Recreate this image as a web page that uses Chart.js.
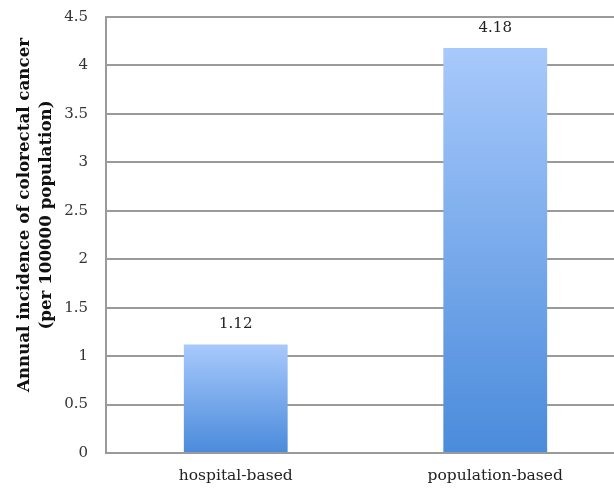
<!DOCTYPE html>
<html>
<head>
<meta charset="utf-8">
<script src="https://cdn.jsdelivr.net/npm/chart.js@4/dist/chart.umd.min.js"></script>
<style>
html,body{margin:0;padding:0;background:#fff;overflow:hidden;}
#wrap{width:640px;height:491px;position:relative;}
</style>
</head>
<body>
<div id="wrap"><canvas id="c"></canvas></div>
<script>
const categories = ["hospital-based", "population-based"];
const incidence = [1.12, 4.18];
const yTicks = [0, 0.5, 1, 1.5, 2, 2.5, 3, 3.5, 4, 4.5];
const yTitle = ["Annual incidence of colorectal cancer", "(per 100000 population)"];

const serif = "'DejaVu Serif', serif";

function barGradient(ctx) {
  const chart = ctx.chart;
  const ys = chart.scales.y;
  if (!ys || !chart.chartArea || ctx.type !== 'data') return '#6fa3e8';
  const top = ys.getPixelForValue(ctx.raw);
  const bot = ys.getPixelForValue(0);
  if (!isFinite(top) || !isFinite(bot)) return '#6fa3e8';
  const g = chart.ctx.createLinearGradient(0, top, 0, bot);
  g.addColorStop(0, '#a8c9fb');
  g.addColorStop(1, '#4a8bdb');
  return g;
}

const valueLabels = {
  id: 'valueLabels',
  afterDatasetsDraw(chart) {
    const c = chart.ctx;
    const meta = chart.getDatasetMeta(0);
    c.save();
    c.font = "15px " + serif;
    c.fillStyle = '#222';
    c.textAlign = 'center';
    c.textBaseline = 'middle';
    meta.data.forEach((bar, i) => {
      c.fillText(incidence[i].toFixed(2), bar.x, bar.y - 20);
    });
    c.restore();
  }
};

// y-axis title, placed like the reference (slightly above the axis centre)
const yAxisTitle = {
  id: 'yAxisTitle',
  afterDraw(chart) {
    const c = chart.ctx;
    const a = chart.chartArea;
    const cy = (a.top + a.bottom) / 2 - 20;
    c.save();
    c.font = "bold 16.7px " + serif;
    c.fillStyle = '#111';
    c.textAlign = 'center';
    c.textBaseline = 'middle';
    const xs = [25, 47];
    yTitle.forEach((t, i) => {
      c.save();
      c.translate(xs[i], cy);
      c.rotate(-Math.PI / 2);
      c.fillText(t, 0, 0);
      c.restore();
    });
    c.restore();
  }
};

// pin the top of the plot area
const pinTop = {
  id: 'pinTop',
  afterLayout(chart) {
    const T = 17;
    const y = chart.scales.y;
    chart.chartArea.top = T;
    chart.chartArea.height = chart.chartArea.bottom - T;
    y.top = T;
    y.height = y.bottom - T;
    y.configure();
  }
};

new Chart(document.getElementById('c'), {
  type: 'bar',
  data: {
    labels: categories,
    datasets: [{
      data: incidence,
      backgroundColor: barGradient,
      borderWidth: 0,
      categoryPercentage: 1,
      barPercentage: 0.4
    }]
  },
  options: {
    responsive: true,
    maintainAspectRatio: false,
    animation: false,
    layout: { padding: { top: 17, right: 15, left: 0, bottom: 0 } },
    plugins: { legend: { display: false }, tooltip: { enabled: false } },
    scales: {
      x: {
        grid: { display: false },
        border: { display: false },
        ticks: { font: { family: serif, size: 15.5 }, color: '#222', padding: 6 },
        afterFit(s) { s.height = 38; }
      },
      y: {
        min: 0, max: 4.5,
        afterBuildTicks(s) { s.ticks = yTicks.map(v => ({ value: v })); },
        grid: { color: '#9a9a9a', lineWidth: 2, drawTicks: false },
        border: { display: true, color: '#9a9a9a', width: 2 },
        ticks: { font: { family: serif, size: 15 }, color: '#333', padding: 18,
          callback: v => String(v) },
        title: { display: false },
        afterFit(s) { s.width = 106; }
      }
    }
  },
  plugins: [pinTop, valueLabels, yAxisTitle]
});
</script>
</body>
</html>
